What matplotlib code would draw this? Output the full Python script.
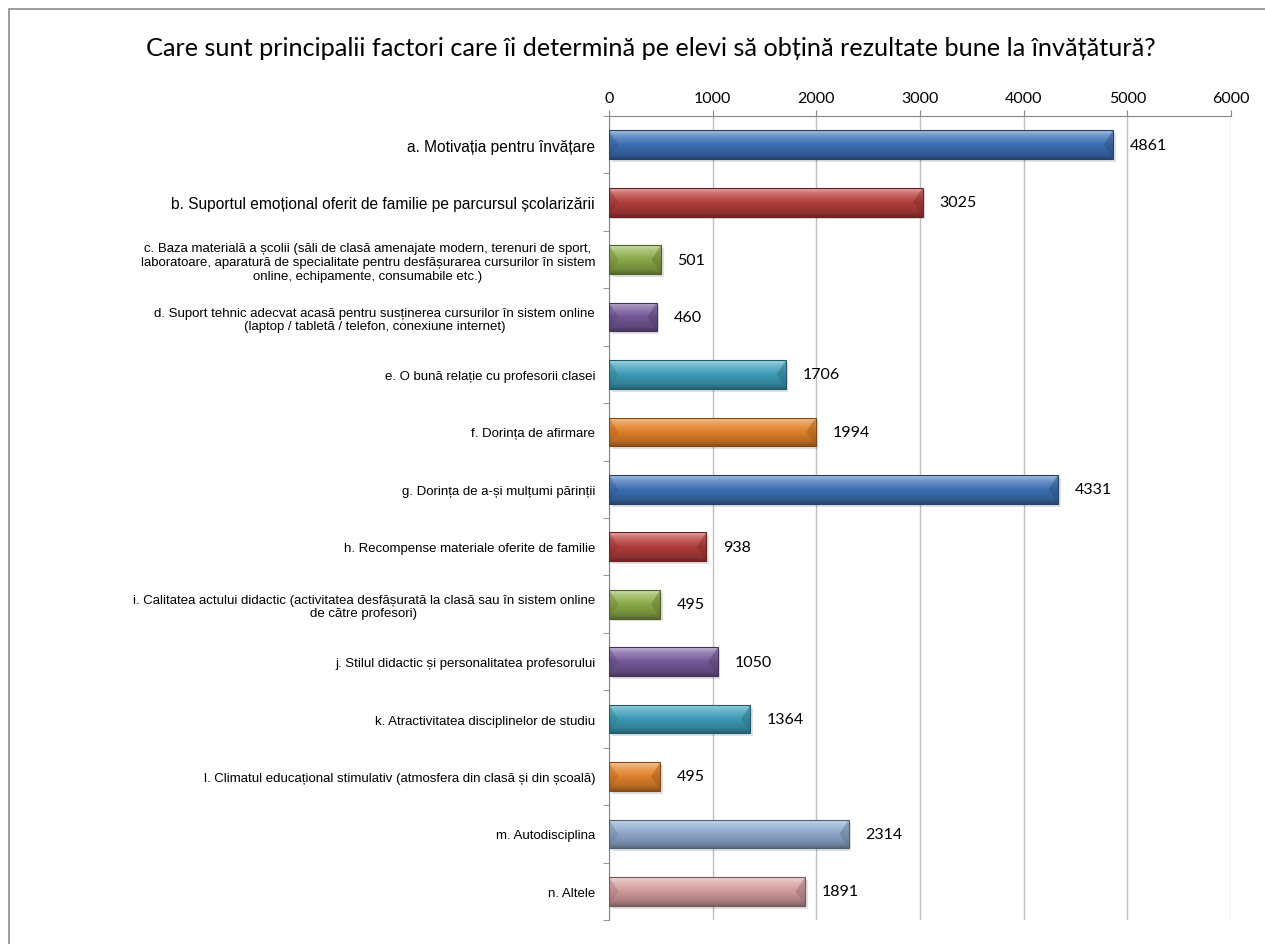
import numpy as np
import matplotlib.pyplot as plt
from matplotlib.colors import to_rgb
from matplotlib.patches import Rectangle, Polygon

title = "Care sunt principalii factori care îi determină pe elevi să obțină rezultate bune la învățătură?"

categories = [
    "a. Motivația pentru învățare",
    "b. Suportul emoțional oferit de familie pe parcursul școlarizării",
    "c. Baza materială a școlii (săli de clasă amenajate modern, terenuri de sport,\n"
    "laboratoare, aparatură de specialitate pentru desfășurarea cursurilor în sistem\n"
    "online, echipamente, consumabile etc.)",
    "d. Suport tehnic adecvat acasă pentru susținerea cursurilor în sistem online\n"
    "(laptop / tabletă / telefon, conexiune internet)",
    "e. O bună relație cu profesorii clasei",
    "f. Dorința de afirmare",
    "g. Dorința de a-și mulțumi părinții",
    "h. Recompense materiale oferite de familie",
    "i. Calitatea actului didactic (activitatea desfășurată la clasă sau în sistem online\n"
    "de către profesori)",
    "j. Stilul didactic și personalitatea profesorului",
    "k. Atractivitatea disciplinelor de studiu",
    "l. Climatul educațional stimulativ (atmosfera din clasă și din școală)",
    "m. Autodisciplina",
    "n. Altele",
]
values = [4861, 3025, 501, 460, 1706, 1994, 4331, 938, 495, 1050, 1364, 495, 2314, 1891]
bar_colors = ["#3F74BA", "#B9403D", "#8FB04A", "#7A5C9E", "#3FA3BE", "#E8862C",
              "#3F74BA", "#B9403D", "#8FB04A", "#7A5C9E", "#3FA3BE", "#E8862C",
              "#93AED3", "#D9A0A0"]
xticks = [0, 1000, 2000, 3000, 4000, 5000, 6000]


def mix(c, other, t):
    c = np.array(to_rgb(c))
    return tuple(c * (1 - t) + np.array(other) * t)


def gradient_img(color):
    stops = [(0.0, mix(color, (1, 1, 1), 0.55)),
             (0.18, mix(color, (1, 1, 1), 0.25)),
             (0.5, mix(color, (0, 0, 0), 0.05)),
             (0.85, mix(color, (0, 0, 0), 0.22)),
             (1.0, mix(color, (0, 0, 0), 0.40))]
    t = np.linspace(0, 1, 64)
    img = np.zeros((64, 1, 3))
    for k in range(3):
        img[:, 0, k] = np.interp(t, [s[0] for s in stops], [s[1][k] for s in stops])
    return img


fig = plt.figure(figsize=(12.65, 9.45), dpi=100)
ax = fig.add_axes([609 / 1265, 24 / 945, 622 / 1265, 804 / 945])

n = len(values)
ypos = np.arange(n)
bars = ax.barh(ypos, values, height=0.5, color=bar_colors, zorder=3)

for bar, col in zip(bars, bar_colors):
    x0, y0 = bar.get_x(), bar.get_y()
    w, h = bar.get_width(), bar.get_height()
    # soft shadow
    ax.add_patch(Rectangle((x0 + 25, y0 + 0.05), w, h, facecolor="#000000",
                           alpha=0.12, lw=0, zorder=2))
    im = ax.imshow(gradient_img(col), extent=(x0, x0 + w, y0 + h, y0),
                   origin="upper", aspect="auto", zorder=4, interpolation="bicubic")
    im.set_clip_path(bar)
    # bevelled ends
    b = min(90, w * 0.3)
    ax.add_patch(Polygon([(x0, y0), (x0 + b, y0 + h / 2), (x0, y0 + h)],
                         closed=True, facecolor=mix(col, (0, 0, 0), 0.3),
                         alpha=0.35, lw=0, zorder=5))
    ax.add_patch(Polygon([(x0 + w, y0), (x0 + w - b, y0 + h / 2), (x0 + w, y0 + h)],
                         closed=True, facecolor=mix(col, (0, 0, 0), 0.35),
                         alpha=0.45, lw=0, zorder=5))
    ax.add_patch(Rectangle((x0, y0), w, h, fill=False,
                           edgecolor=mix(col, (0, 0, 0), 0.45), lw=0.8, zorder=6))
    ax.annotate(f"{int(w)}", xy=(x0 + w, y0 + h / 2), xytext=(12, 0),
                textcoords="offset points", va="center", ha="left",
                fontsize=11.5, family="Lato", zorder=7)

ax.set_xlim(0, 6000)
ax.set_ylim(n - 0.5, -0.5)

ax.xaxis.tick_top()
ax.set_xticks(xticks)
ax.set_xticklabels([str(t) for t in xticks], fontsize=11.5, family="Lato")
ax.tick_params(axis="x", length=4, color="#868686", pad=4)
ax.grid(axis="x", color="#BFBFBF", lw=1, zorder=0)

ax.set_yticks(ypos)
ylabels = ax.set_yticklabels(categories, fontsize=9.5, family="Liberation Sans",
                             multialignment="center")
# the first two labels are set larger in the original
for lab in ylabels[:2]:
    lab.set_fontsize(11.2)
ax.set_yticks(np.arange(-0.5, n, 1), minor=True)
ax.tick_params(axis="y", which="major", length=0, pad=10)
ax.tick_params(axis="y", which="minor", length=4, color="#868686")

for side in ["right", "bottom"]:
    ax.spines[side].set_visible(False)
for side in ["top", "left"]:
    ax.spines[side].set_color("#868686")

fig.text(651 / 1265, 1 - 49 / 945, title, ha="center", va="center",
         fontsize=18.2, family="Lato")

fig.add_artist(Rectangle((8.5 / 1265, -0.1), 1.2, 1.1 - 10 / 945,
                         transform=fig.transFigure, fill=False,
                         edgecolor="#8C8C8C", lw=1.2))

fig.savefig("out.png", dpi=100)
